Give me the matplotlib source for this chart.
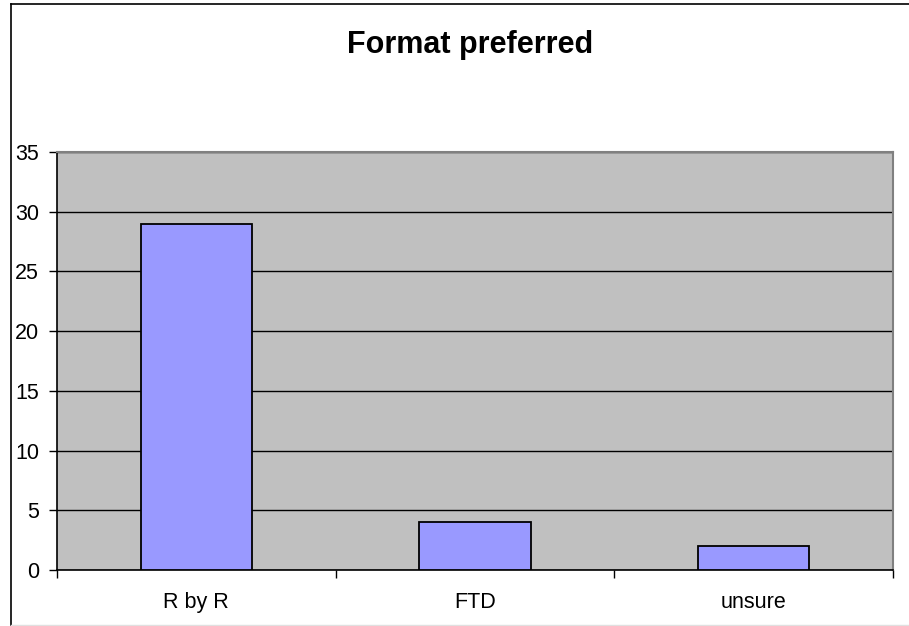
import matplotlib.pyplot as plt
from matplotlib.lines import Line2D
import numpy as np

categories = ['R by R', 'FTD', 'unsure']
counts = [29, 4, 2]
y_ticks = [0, 5, 10, 15, 20, 25, 30, 35]

plt.rcParams['font.family'] = ['Liberation Sans', 'DejaVu Sans']

fig = plt.figure(figsize=(9.09, 6.26), dpi=100)
ax = fig.add_axes([0.0627, 0.0895, 0.9197, 0.6677])

ind = np.arange(len(categories))
ax.bar(ind, counts, width=0.4, color='#9999FF', edgecolor='black', linewidth=1.3, zorder=3)

ax.set_facecolor('#C0C0C0')
ax.set_xlim(-0.5, len(categories) - 0.5)
ax.set_ylim(0, 35)
ax.set_yticks(y_ticks)
ax.set_yticklabels([str(v) for v in y_ticks], fontsize=15.5)
ax.yaxis.grid(True, color='black', linewidth=1.0, zorder=1)

# category labels centred, tick marks on the boundaries
ax.set_xticks(ind)
ax.set_xticklabels(categories, fontsize=15.5)
ax.tick_params(axis='x', which='major', length=0, pad=16)
ax.set_xticks(np.arange(len(categories) + 1) - 0.5, minor=True)
ax.tick_params(axis='x', which='minor', length=6, width=1, color='black', direction='out')
ax.tick_params(axis='y', length=6, width=1, direction='out', pad=7)

for s in ['top', 'right']:
    ax.spines[s].set_color('#808080')
    ax.spines[s].set_linewidth(1.5)
for s in ['left', 'bottom']:
    ax.spines[s].set_color('black')
    ax.spines[s].set_linewidth(1.2)

fig.text(0.517, 0.928, 'Format preferred', ha='center', va='center',
         fontsize=22, fontweight='bold')

# chart border
fig.add_artist(Line2D([0.0121, 0.0121], [0.0016, 0.9936], color='black', linewidth=1.2))
fig.add_artist(Line2D([0.0121, 1.0], [0.9936, 0.9936], color='black', linewidth=1.2))
fig.add_artist(Line2D([0.0121, 1.0], [0.0016, 0.0016], color='#E0E0E0', linewidth=1.0))

fig.savefig('out.png', dpi=100)
